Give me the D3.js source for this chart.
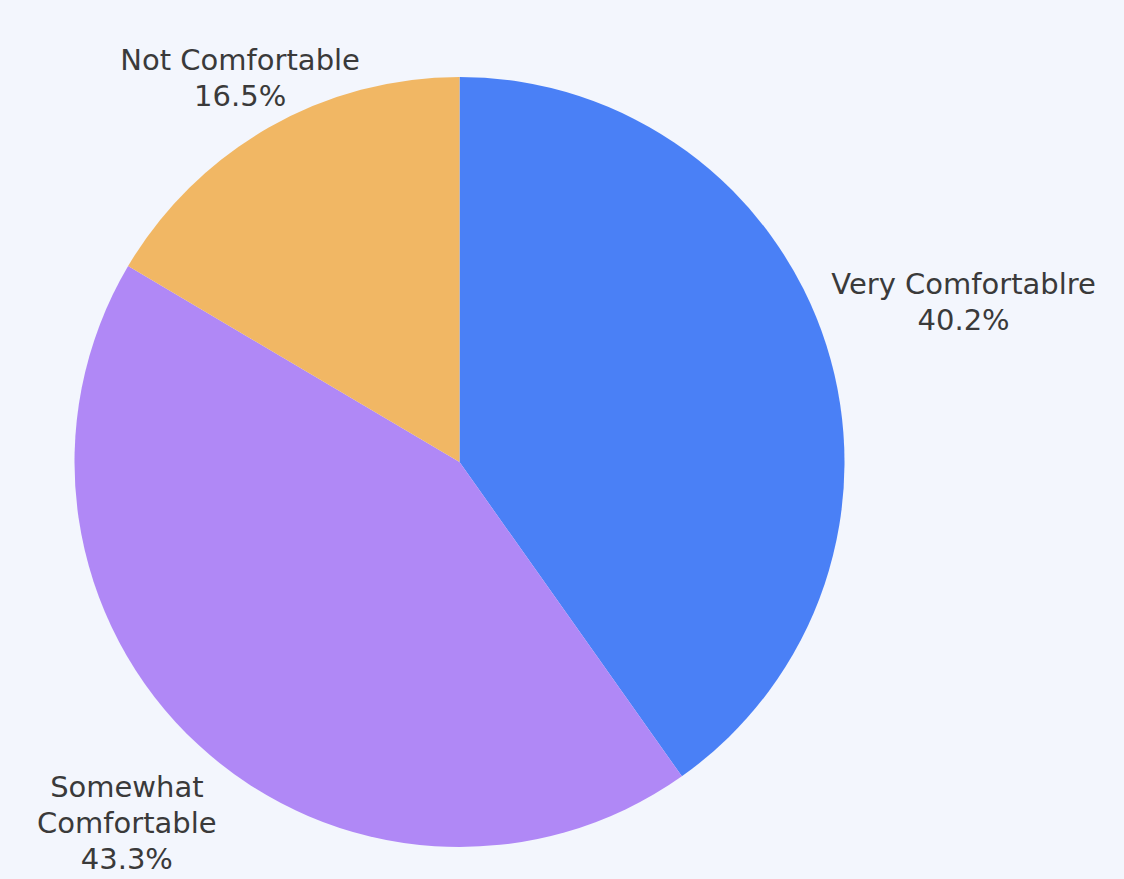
<!DOCTYPE html>
<html><head><meta charset="utf-8">
<script src="https://cdn.jsdelivr.net/npm/d3@7"></script>
<style>html,body{margin:0;padding:0;background:#f3f6fd;}svg{display:block;}</style>
</head><body>
<svg id="chart" width="1124" height="879"></svg>
<script>
const categories = ["Very Comfortablre", "Somewhat Comfortable", "Not Comfortable"];
const values = [40.2, 43.3, 16.5];
const valueLabels = ["40.2%", "43.3%", "16.5%"];
const labelLines = [["Very Comfortablre"], ["Somewhat", "Comfortable"], ["Not Comfortable"]];

const colors = ["#4a80f6", "#b088f6", "#f1b764"];
const labelRadiusFactor = [1.374, 1.275, 1.15];

const W = 1124, H = 879, cx = 459.5, cy = 462, R = 385;
const svg = d3.select("#chart");
svg.append("rect").attr("width", W).attr("height", H).attr("fill", "#f3f6fd");
const g = svg.append("g").attr("transform", `translate(${cx},${cy})`);

const pie = d3.pie().sort(null).value(d => d)(values);
const arc = d3.arc().innerRadius(0).outerRadius(R);
const color = d3.scaleOrdinal().domain(categories).range(colors);

g.selectAll("path.slice").data(pie).join("path")
  .attr("class", "slice")
  .attr("d", arc)
  .attr("fill", (d, i) => color(categories[i]));

const lineH = 36;
pie.forEach((d, i) => {
  const a = (d.startAngle + d.endAngle) / 2;
  const r = R * labelRadiusFactor[i];
  const x = Math.sin(a) * r, y = -Math.cos(a) * r;
  const lines = labelLines[i].concat([valueLabels[i]]);
  const t = g.append("text")
    .attr("text-anchor", "middle")
    .attr("font-family", "'DejaVu Sans', sans-serif")
    .attr("font-size", 29)
    .attr("fill", "#3a3a3a");
  const y0 = y - (lines.length - 1) * lineH / 2;
  lines.forEach((s, k) => {
    t.append("tspan").attr("x", x).attr("y", y0 + k * lineH).attr("dy", "0.35em").text(s);
  });
});
</script>
</body></html>
